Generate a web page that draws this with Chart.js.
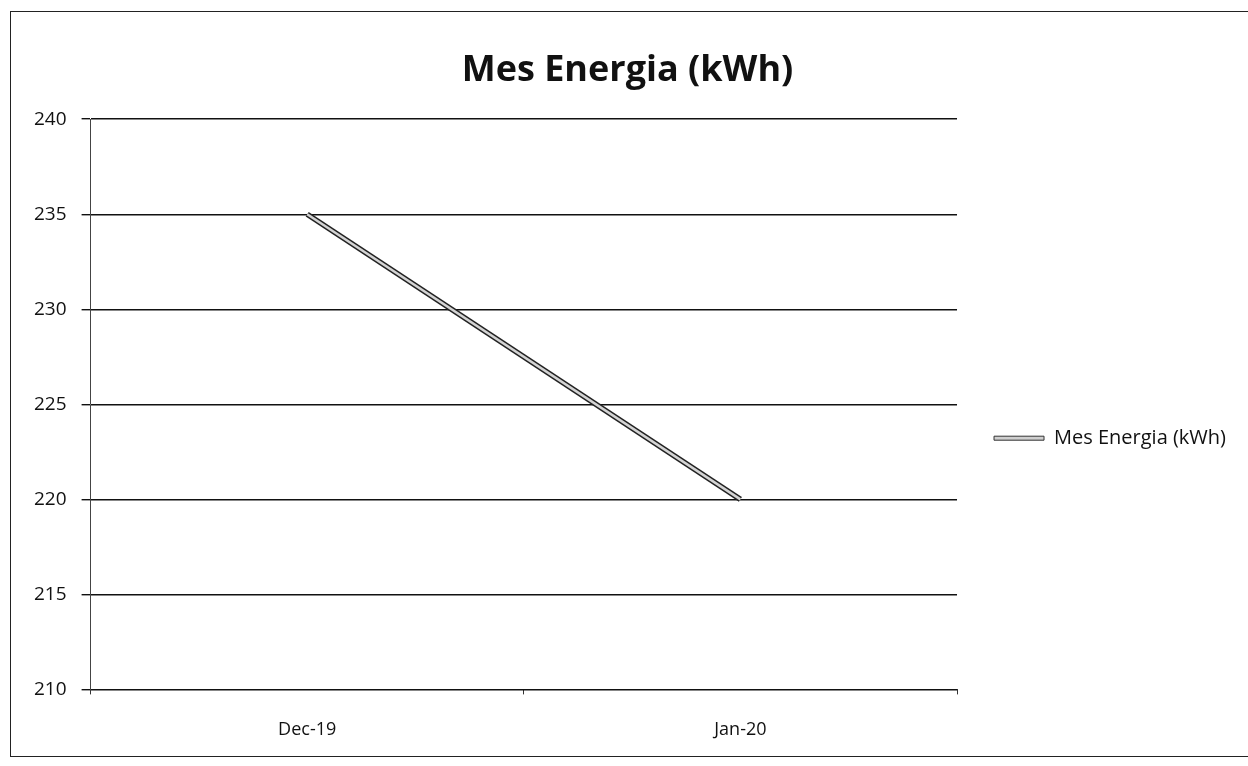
<!DOCTYPE html>
<html>
<head>
<meta charset="utf-8">
<script src="https://cdn.jsdelivr.net/npm/chart.js@4.4.1/dist/chart.umd.min.js"></script>
<style>
  html, body { margin: 0; padding: 0; background: #fff; }
  #wrap { position: relative; width: 1248px; height: 766px; }
  #frame { position: absolute; left: 10px; top: 11px; width: 1240px; height: 746px; border: 1.5px solid #222; box-sizing: border-box; pointer-events: none; }
  canvas { position: absolute; left: 0; top: 0; }
</style>
</head>
<body>
<div id="wrap">
  <canvas id="c" width="1248" height="766"></canvas>
  <div id="frame"></div>
</div>
<script>
const categories = ['Dec-19', 'Jan-20'];
const energia = [235, 220];
const yTickValues = [210, 215, 220, 225, 230, 235, 240];
const seriesName = 'Mes Energia (kWh)';
const chartTitle = 'Mes Energia (kWh)';

const FONT = "'Open Sans', 'DejaVu Sans', sans-serif";

new Chart(document.getElementById('c'), {
  type: 'line',
  data: {
    labels: categories,
    datasets: [
      { label: seriesName, data: energia, borderColor: '#222', borderWidth: 5.5, pointRadius: 0, tension: 0, fill: false, order: 1 },
      { label: '_inner', data: energia, borderColor: '#d4d4d4', borderWidth: 2.5, pointRadius: 0, tension: 0, fill: false, order: 0 }
    ]
  },
  options: {
    responsive: false,
    animation: false,
    layout: { padding: { left: 19, top: 0, right: 12, bottom: 0 } },
    plugins: {
      title: {
        display: true, text: chartTitle, color: '#111',
        font: { family: FONT, size: 36, weight: 'bold' },
        padding: { top: 49, bottom: 27 }
      },
      legend: {
        position: 'right',
        title: { display: true, text: '', padding: { top: 96, bottom: 0 } },
        labels: {
          color: '#111', font: { family: FONT, size: 20 },
          boxWidth: 50, boxHeight: 4, padding: 37,
          generateLabels: () => [{ text: seriesName, fillStyle: '#cfcfcf', strokeStyle: '#333', fontColor: '#111', lineWidth: 1, datasetIndex: 0, hidden: false }]
        }
      },
      tooltip: { enabled: false }
    },
    scales: {
      x: {
        offset: true,
        grid: { display: true, offset: true, drawOnChartArea: false, drawTicks: true, tickLength: 5, tickColor: '#333' },
        border: { display: false },
        ticks: { color: '#111', font: { family: FONT, size: 18 }, padding: 25 }
      },
      y: {
        min: 210, max: 240,
        afterBuildTicks: (axis) => { axis.ticks = yTickValues.map(v => ({ value: v })); },
        grid: { color: '#111', lineWidth: 1.4, tickLength: 9, tickColor: '#111' },
        border: { display: true, color: '#444', width: 1 },
        ticks: { color: '#111', font: { family: FONT, size: 19 }, padding: 15 }
      }
    }
  }
});
</script>
</body>
</html>
